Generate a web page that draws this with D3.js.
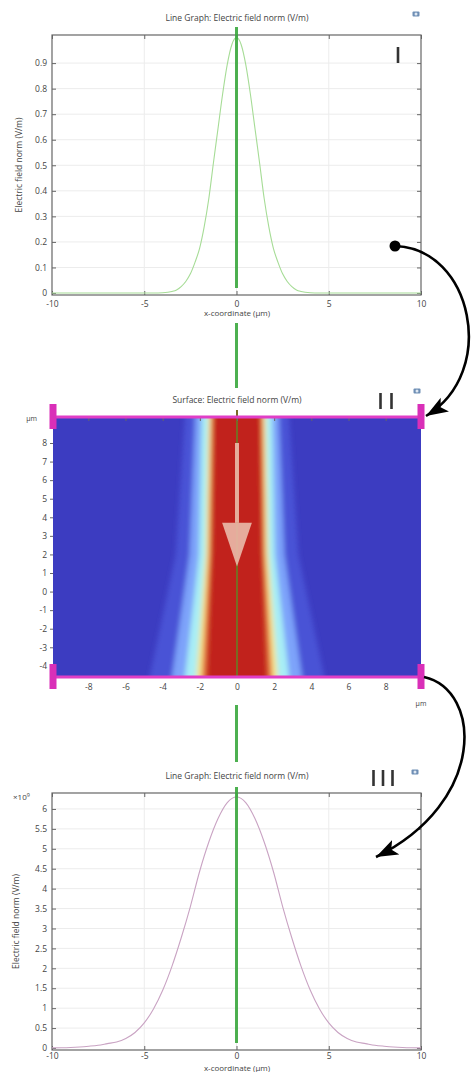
<!DOCTYPE html>
<html>
<head>
<meta charset="utf-8">
<script src="https://cdn.jsdelivr.net/npm/d3@7"></script>
<style>
  body { margin: 0; background: #fff; }
  svg text { font-family: "Open Sans", sans-serif; fill: #444; }
  .tick line { stroke: #666; }
</style>
</head>
<body>
<svg id="fig" width="472" height="1072"></svg>
<script>
// ---- data ----
// panel I: line graph of |E| at the top boundary (V/m)
var xI = [-10, -8, -6, -5, -4.5, -4, -3.5, -3.25, -3, -2.75, -2.5, -2.25, -2, -1.75, -1.5, -1.25, -1, -0.75, -0.5, -0.25,
          0,
          0.25, 0.5, 0.75, 1, 1.25, 1.5, 1.75, 2, 2.25, 2.5, 2.75, 3, 3.25, 3.5, 4, 4.5, 5, 6, 8, 10];
var fieldI = [0, 0, 0, 0, 0, 0.001, 0.006, 0.012, 0.025, 0.045, 0.075, 0.12, 0.175, 0.26, 0.37, 0.51, 0.645, 0.78, 0.895, 0.973,
              1,
              0.973, 0.895, 0.78, 0.645, 0.51, 0.37, 0.26, 0.175, 0.12, 0.075, 0.045, 0.025, 0.012, 0.006, 0.001, 0, 0, 0, 0, 0];
var yTicksI = [0, 0.1, 0.2, 0.3, 0.4, 0.5, 0.6, 0.7, 0.8, 0.9];

// panel III: line graph of |E| at the bottom boundary (x1e9 V/m)
var xIII = [-10, -9.5, -9, -8.5, -8, -7.5, -7, -6.5, -6, -5.5, -5, -4.5, -4, -3.5, -3, -2.5, -2, -1.5, -1, -0.5,
            0,
            0.5, 1, 1.5, 2, 2.5, 3, 3.5, 4, 4.5, 5, 5.5, 6, 6.5, 7, 7.5, 8, 8.5, 9, 9.5, 10];
var fieldIII = [0.002, 0.005, 0.012, 0.025, 0.045, 0.07, 0.11, 0.15, 0.24, 0.39, 0.63, 0.98, 1.45, 2.05, 2.76, 3.55, 4.43, 5.17, 5.76, 6.16,
                6.3,
                6.16, 5.76, 5.17, 4.43, 3.55, 2.76, 2.05, 1.45, 0.98, 0.63, 0.39, 0.24, 0.15, 0.11, 0.07, 0.045, 0.025, 0.012, 0.005, 0.002];
var yTicksIII = [0, 0.5, 1, 1.5, 2, 2.5, 3, 3.5, 4, 4.5, 5, 5.5, 6];

var xTicksLine = [-10, -5, 0, 5, 10];

// panel II: surface plot, beam colour-band half widths (um) read at three heights
var surfY      = [9.4, 2.0, -4.6];
var fadeHalf   = [2.8, 3.3, 4.7];
var glowHalf   = [2.25, 2.55, 3.5];
var cyanHalf   = [1.9, 2.05, 2.8];
var yellowHalf = [1.55, 1.7, 2.2];
var orangeHalf = [1.4, 1.52, 1.9];
var redHalf    = [1.27, 1.38, 1.65];
var bandColors = ["#4a53d6", "#7da3fa", "#a8eef5", "#f3e58e", "#e4713a", "#c1211f"];
var xTicksSurf = [-8, -6, -4, -2, 0, 2, 4, 6, 8];
var yTicksSurf = [-4, -3, -2, -1, 0, 1, 2, 3, 4, 5, 6, 7, 8];

var cutX = 0;   // position of the green cut line (um)

var svg = d3.select("#fig");
var defs = svg.append("defs");

defs.append("filter").attr("id", "soft")
    .attr("x", "-10%").attr("y", "-10%").attr("width", "120%").attr("height", "120%")
  .append("feGaussianBlur").attr("stdDeviation", 2.6);

defs.append("marker").attr("id", "head")
    .attr("markerUnits", "userSpaceOnUse")
    .attr("markerWidth", 26).attr("markerHeight", 20)
    .attr("refX", 22).attr("refY", 8)
    .attr("orient", "auto")
  .append("path").attr("d", "M0,0 L22,8 L0,16 L5,8 Z").attr("fill", "#000");

function cameraIcon(x, y) {
  var g = svg.append("g").attr("transform", "translate(" + x + "," + y + ")");
  g.append("rect").attr("x", -3.5).attr("y", -2.5).attr("width", 7).attr("height", 5)
    .attr("rx", 1).attr("fill", "#6f8fb5");
  g.append("circle").attr("r", 1.5).attr("fill", "#dfe8f2");
}

function numeral(cx, baseline, n, gap) {
  // roman numeral drawn as a row of upright strokes
  var g = svg.append("g");
  for (var i = 0; i < n; i++) {
    var xx = cx + (i - (n - 1) / 2) * gap;
    g.append("line").attr("x1", xx).attr("x2", xx).attr("y1", baseline - 16).attr("y2", baseline)
      .attr("stroke", "#333").attr("stroke-width", 2.6);
  }
}

function linePanel(o) {
  var x = d3.scaleLinear().domain([-10, 10]).range([52, 421]);
  var y = d3.scaleLinear().domain(o.yDomain).range([o.zeroY, o.top]);
  var g = svg.append("g");

  g.append("g").selectAll("line").data(xTicksLine.slice(1, -1)).enter().append("line")
    .attr("x1", x).attr("x2", x).attr("y1", o.top).attr("y2", o.bottom)
    .attr("stroke", "#ececec");
  g.append("g").selectAll("line").data(o.yTicks.slice(1)).enter().append("line")
    .attr("x1", 52).attr("x2", 421).attr("y1", y).attr("y2", y)
    .attr("stroke", "#ececec");

  var fmt = function(d) { return String(d); };
  g.append("g").attr("transform", "translate(52,0)")
    .call(d3.axisLeft(y).tickValues(o.yTicks).tickSize(-4).tickPadding(5).tickFormat(fmt));
  g.append("g").attr("transform", "translate(421,0)")
    .call(d3.axisRight(y).tickValues(o.yTicks).tickSize(-4).tickFormat(""));
  g.append("g").attr("transform", "translate(0," + o.bottom + ")")
    .call(d3.axisBottom(x).tickValues(xTicksLine).tickSize(-4).tickPadding(o.tickPad).tickFormat(fmt));
  g.append("g").attr("transform", "translate(0," + o.top + ")")
    .call(d3.axisTop(x).tickValues(xTicksLine).tickSize(-4).tickFormat(""));
  g.selectAll(".domain").remove();
  g.selectAll(".tick text").attr("font-size", 8.5).attr("fill", "#444");

  g.append("rect").attr("x", 52).attr("y", o.top).attr("width", 369).attr("height", o.bottom - o.top)
    .attr("fill", "none").attr("stroke", "#666").attr("stroke-width", 1.2);

  var line = d3.line().x(function(d) { return x(d[0]); }).y(function(d) { return y(d[1]); })
    .curve(d3.curveMonotoneX);
  g.append("path").datum(d3.zip(o.xs, o.ys)).attr("d", line)
    .attr("fill", "none").attr("stroke", o.color).attr("stroke-width", 1.1);

  g.append("text").attr("x", 237).attr("y", o.top - 14).attr("text-anchor", "middle")
    .attr("font-size", 8.5).text("Line Graph: Electric field norm (V/m)");
  g.append("text").attr("x", 237).attr("y", o.bottom + o.titleGap).attr("text-anchor", "middle")
    .attr("font-size", 8).text("x-coordinate (\u00b5m)");
  g.append("text").attr("transform", "translate(" + o.labelX + "," + ((o.top + o.bottom) / 2) + ") rotate(-90)")
    .attr("text-anchor", "middle").attr("font-size", 8.5).text("Electric field norm (V/m)");
  return x;
}

// ---- panel I ----
var xLine = linePanel({ top: 35, bottom: 295, zeroY: 293, yDomain: [0, 1.01], yTicks: yTicksI,
  xs: xI, ys: fieldI, color: "#a6dc96", labelX: 22, titleGap: 21, tickPad: 6 });
cameraIcon(416, 14);
numeral(398, 63, 1, 0);

// ---- panel III ----
linePanel({ top: 793, bottom: 1050, zeroY: 1048, yDomain: [0, 6.4], yTicks: yTicksIII,
  xs: xIII, ys: fieldIII, color: "#c9a3c3", labelX: 19, titleGap: 21, tickPad: 3 });
cameraIcon(415, 772);
numeral(383, 786, 3, 9.5);
var mag = svg.append("text").attr("x", 13).attr("y", 800).attr("font-size", 8);
mag.append("tspan").text("\u00d710");
mag.append("tspan").attr("dy", -3).attr("font-size", 5.5).text("9");

// ---- panel II: surface ----
var xs = d3.scaleLinear().domain([-9.9, 9.9]).range([53, 421]);
var ys = d3.scaleLinear().domain([-4.6, 9.4]).range([677, 417]);

defs.append("clipPath").attr("id", "plotclip").append("rect")
  .attr("x", 53).attr("y", 417).attr("width", 368).attr("height", 260);

var surf = svg.append("g").attr("clip-path", "url(#plotclip)");
surf.append("rect").attr("x", 53).attr("y", 417).attr("width", 368).attr("height", 260).attr("fill", "#3c3cc1");

var bands = [fadeHalf, glowHalf, cyanHalf, yellowHalf, orangeHalf, redHalf];
var area = d3.area()
  .y(function(d) { return ys(d[0]); })
  .x0(function(d) { return xs(cutX - d[1]); })
  .x1(function(d) { return xs(cutX + d[1]); });
var beam = surf.append("g").attr("filter", "url(#soft)");
beam.selectAll("path").data(bands).enter().append("path")
  .attr("d", function(h) {
    // pad top and bottom so the blur does not eat the edges
    var pts = d3.zip(surfY, h);
    pts.unshift([surfY[0] + 0.6, h[0]]);
    pts.push([surfY[surfY.length - 1] - 0.6, h[h.length - 1]]);
    return area(pts);
  })
  .attr("fill", function(d, i) { return bandColors[i]; });

// green cut line over the field (shows olive on red)
svg.append("line").attr("x1", xs(cutX)).attr("x2", xs(cutX)).attr("y1", 410).attr("y2", 677)
  .attr("stroke", "#7a6a22").attr("stroke-width", 2);

// propagation arrow
var arrowTop = 8.0, arrowNeck = 3.7, arrowTip = 1.35;
svg.append("rect").attr("x", xs(cutX) - 2).attr("y", ys(arrowTop)).attr("width", 4)
  .attr("height", ys(arrowNeck) - ys(arrowTop)).attr("fill", "#ebb6a6").attr("opacity", 0.92);
svg.append("path")
  .attr("d", "M" + xs(cutX - 0.8) + "," + ys(arrowNeck) + "L" + xs(cutX + 0.8) + "," + ys(arrowNeck) +
             "L" + xs(cutX) + "," + ys(arrowTip) + "Z")
  .attr("fill", "#e9b7a7").attr("opacity", 0.92);

// axes
var axL = svg.append("g").attr("transform", "translate(53,0)")
  .call(d3.axisLeft(ys).tickValues(yTicksSurf).tickSize(3).tickPadding(3).tickFormat(function(d) { return String(d); }));
var axB = svg.append("g").attr("transform", "translate(0,680)")
  .call(d3.axisBottom(xs).tickValues(xTicksSurf).tickSize(0).tickPadding(4).tickFormat(function(d) { return String(d); }));
var axT = svg.append("g").attr("transform", "translate(0,418)")
  .call(d3.axisTop(xs).tickValues(xTicksSurf).tickSize(-3).tickFormat(""));
[axL, axB, axT].forEach(function(a) {
  a.select(".domain").remove();
  a.selectAll(".tick text").attr("font-size", 8.5).attr("fill", "#444");
  a.selectAll(".tick line").attr("stroke", "#222");
});

svg.append("text").attr("x", 37).attr("y", 421).attr("text-anchor", "end").attr("font-size", 7).text("\u00b5m");
svg.append("text").attr("x", 421).attr("y", 706).attr("text-anchor", "middle").attr("font-size", 7).text("\u00b5m");
svg.append("text").attr("x", 237).attr("y", 403).attr("text-anchor", "middle").attr("font-size", 8.5)
  .text("Surface: Electric field norm (V/m)");
cameraIcon(417, 391);
numeral(386, 409, 2, 11);

// magenta boundary markers (top and bottom cut lines)
[ys(9.4), ys(-4.6)].forEach(function(yy) {
  svg.append("line").attr("x1", 53).attr("x2", 421).attr("y1", yy).attr("y2", yy)
    .attr("stroke", "#e03ec6").attr("stroke-width", 3);
  [53, 421].forEach(function(xx) {
    svg.append("rect").attr("x", xx - 3.5).attr("y", yy - 13).attr("width", 7).attr("height", 25)
      .attr("fill", "#d92fb8");
  });
});

// ---- green cut line through every panel ----
var gx = xLine(cutX);
[[27, 288], [323, 388], [705, 762], [787, 1043]].forEach(function(s) {
  svg.append("line").attr("x1", gx).attr("x2", gx).attr("y1", s[0]).attr("y2", s[1])
    .attr("stroke", "#3aa83e").attr("stroke-width", 3).attr("opacity", 0.9);
});

// ---- black connector arrows ----
svg.append("circle").attr("cx", 395).attr("cy", 246).attr("r", 5.5).attr("fill", "#000");
svg.append("path").attr("d", "M395,246 C472,248 499,372 426,416")
  .attr("fill", "none").attr("stroke", "#000").attr("stroke-width", 2.6).attr("marker-end", "url(#head)");
svg.append("path").attr("d", "M424,677 C482,690 487,802 376,857")
  .attr("fill", "none").attr("stroke", "#000").attr("stroke-width", 2.6).attr("marker-end", "url(#head)");
</script>
</body>
</html>
